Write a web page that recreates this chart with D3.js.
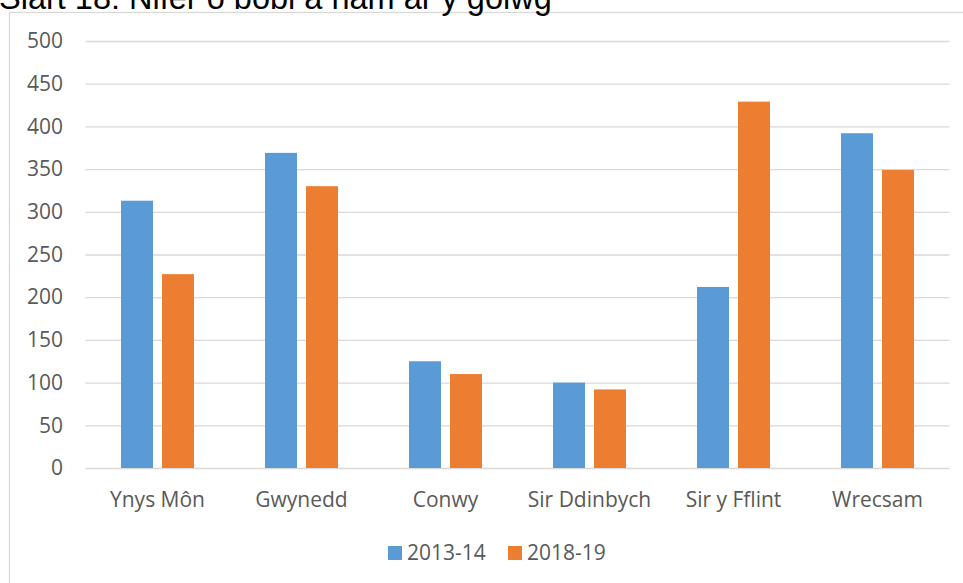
<!DOCTYPE html>
<html><head><meta charset="utf-8">
<script src="https://cdn.jsdelivr.net/npm/d3@7"></script>
<style>body{margin:0;background:#fff;overflow:hidden}svg{display:block}</style>
</head><body>
<script>
const title = "Siart 18: Nifer o bobl â nam ar y golwg";
const categories = ["Ynys Môn","Gwynedd","Conwy","Sir Ddinbych","Sir y Fflint","Wrecsam"];
const seriesNames = ["2013-14","2018-19"];
const values2013 = [313,369,125,100,212,392];
const values2018 = [227,330,110,92,429,349];
const yTicks = [0,50,100,150,200,250,300,350,400,450,500];
const colors = ["#5b9bd5","#ed7d31"];

const W=963,H=583;
const FONT="Open Sans, sans-serif";
const svg=d3.select("body").append("svg").attr("width",W).attr("height",H);
svg.append("rect").attr("x",9.5).attr("y",12.5).attr("width",1000).attr("height",1000)
  .attr("fill","#fff").attr("stroke","#d9d9d9").attr("stroke-width",1.3);
svg.append("text").attr("x",-1).attr("y",9).attr("font-family","Liberation Sans, Arial, sans-serif")
  .attr("font-size",32.5).attr("fill","#000").text(title);

const x=d3.scaleBand().domain(categories).range([85.5,949.5]);
const y=d3.scaleLinear().domain([0,500]).range([468,41]);
const g=svg.append("g");
const yAxis=d3.axisLeft(y).tickValues(yTicks).tickSize(-(949.5-85.5)).tickFormat(d3.format("d"));
const ya=g.append("g").attr("transform","translate(85.5,0)").call(yAxis);
ya.select(".domain").remove();
ya.selectAll(".tick line").attr("stroke","#d9d9d9").attr("stroke-width",1.3);
ya.selectAll(".tick text").attr("x",-22.5).attr("fill","#595959").attr("font-size",21)
  .attr("font-family",FONT);

const inner=d3.scaleBand().domain(seriesNames).range([0,x.bandwidth()]).paddingInner(0.2195).paddingOuter(0.866);
const data=categories.map((c,i)=>({c,vals:[values2013[i],values2018[i]]}));
const cg=g.selectAll(".cat").data(data).join("g").attr("transform",d=>`translate(${x(d.c)},0)`);
cg.selectAll("rect").data(d=>d.vals.map((v,j)=>({v,s:seriesNames[j],j}))).join("rect")
  .attr("x",d=>inner(d.s)).attr("width",inner.bandwidth())
  .attr("y",d=>y(d.v)).attr("height",d=>y(0)-y(d.v)).attr("fill",d=>colors[d.j]);

const xa=g.append("g").attr("transform","translate(0,468)").call(d3.axisBottom(x).tickSize(0));
xa.select(".domain").remove();
xa.selectAll(".tick text").attr("y",39).attr("dy",0).attr("fill","#595959").attr("font-size",21)
  .attr("font-family",FONT);

const leg=svg.append("g").attr("transform","translate(0,0)");
const lx=[388,508];
seriesNames.forEach((s,i)=>{
  leg.append("rect").attr("x",lx[i]).attr("y",546).attr("width",14).attr("height",14).attr("fill",colors[i]);
  leg.append("text").attr("x",lx[i]+19).attr("y",560).attr("font-size",21).attr("fill","#595959")
    .attr("font-family",FONT).text(s);
});
</script>
</body></html>
